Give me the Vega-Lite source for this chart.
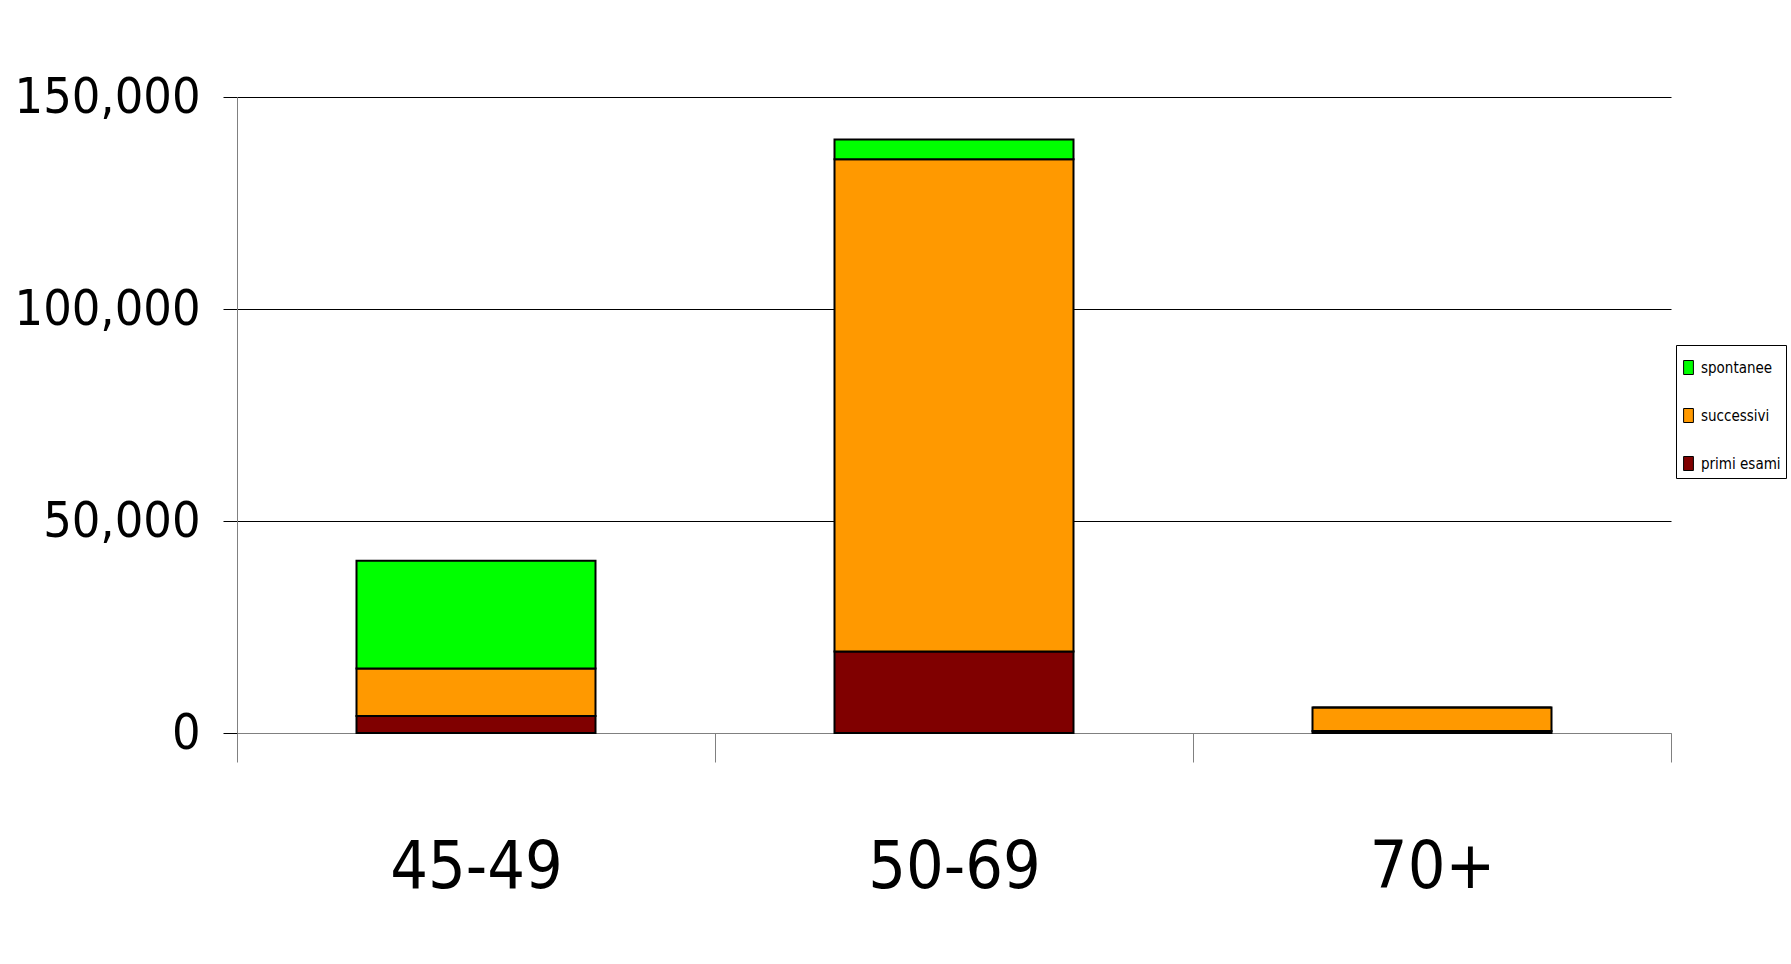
{
  "$schema": "https://vega.github.io/schema/vega-lite/v6.json",
  "width": 1434,
  "height": 636,
  "autosize": {"type": "none"},
  "padding": {"left": 237, "top": 97, "right": 120, "bottom": 231},
  "background": "white",
  "data": {
    "values": [
      {"eta": "45-49", "serie": "primi esami", "valore": 4000},
      {"eta": "45-49", "serie": "successivi", "valore": 11200},
      {"eta": "45-49", "serie": "spontanee", "valore": 25400},
      {"eta": "50-69", "serie": "primi esami", "valore": 19200},
      {"eta": "50-69", "serie": "successivi", "valore": 116100},
      {"eta": "50-69", "serie": "spontanee", "valore": 4700},
      {"eta": "70+", "serie": "primi esami", "valore": 500},
      {"eta": "70+", "serie": "successivi", "valore": 5500},
      {"eta": "70+", "serie": "spontanee", "valore": 0}
    ]
  },
  "transform": [
    {"calculate": "indexof(['primi esami','successivi','spontanee'], datum.serie)", "as": "ord"}
  ],
  "mark": {"type": "bar", "stroke": "black", "strokeWidth": 2, "width": {"band": 0.5}},
  "encoding": {
    "x": {
      "field": "eta", "type": "nominal", "sort": ["45-49", "50-69", "70+"],
      "scale": {"paddingInner": 0, "paddingOuter": 0},
      "axis": {
        "title": null, "labelAngle": 0, "labelFont": "Liberation Sans Narrow, DejaVu Sans Condensed, Liberation Sans, Arial, sans-serif", "labelFontSize": 66,
        "labelLimit": 2000, "labelColor": "black", "labelPadding": 73, "tickBand": "extent", "tickSize": 29,
        "tickColor": "#808080", "domainColor": "#808080", "grid": false
      }
    },
    "y": {
      "field": "valore", "type": "quantitative", "stack": "zero",
      "scale": {"domain": [0, 150000], "nice": false},
      "axis": {
        "title": null, "values": [0, 50000, 100000, 150000], "format": ",d",
        "labelFont": "Liberation Sans Narrow, DejaVu Sans Condensed, Liberation Sans, Arial, sans-serif", "labelFontSize": 50, "labelColor": "black",
        "labelLimit": 2000, "labelPadding": 23, "tickSize": 14, "tickColor": "black", "domainColor": "#808080",
        "gridColor": {"condition": {"test": "datum.value === 0", "value": "#808080"}, "value": "black"},
        "gridOpacity": 1
      }
    },
    "color": {
      "field": "serie", "type": "nominal",
      "scale": {"domain": ["spontanee", "successivi", "primi esami"], "range": ["#00FF00", "#FF9900", "#800000"]},
      "legend": {
        "title": " ", "titleFontSize": 10, "titlePadding": 0, "orient": "none", "legendX": 1439, "legendY": 248,
        "strokeColor": "black", "fillColor": "white", "padding": 5, "rowPadding": 29,
        "symbolType": "M-0.7,-1L0.7,-1L0.7,1L-0.7,1Z", "symbolSize": 196,
        "symbolStrokeColor": "black", "symbolStrokeWidth": 1, "symbolOpacity": 1,
        "labelFont": "Liberation Sans Narrow, DejaVu Sans Condensed, Liberation Sans, Arial, sans-serif", "labelFontSize": 15, "labelColor": "black", "labelOffset": 5, "labelLimit": 500
      }
    },
    "order": {"field": "ord", "type": "quantitative"}
  },
  "config": {"view": {"stroke": null}}
}
